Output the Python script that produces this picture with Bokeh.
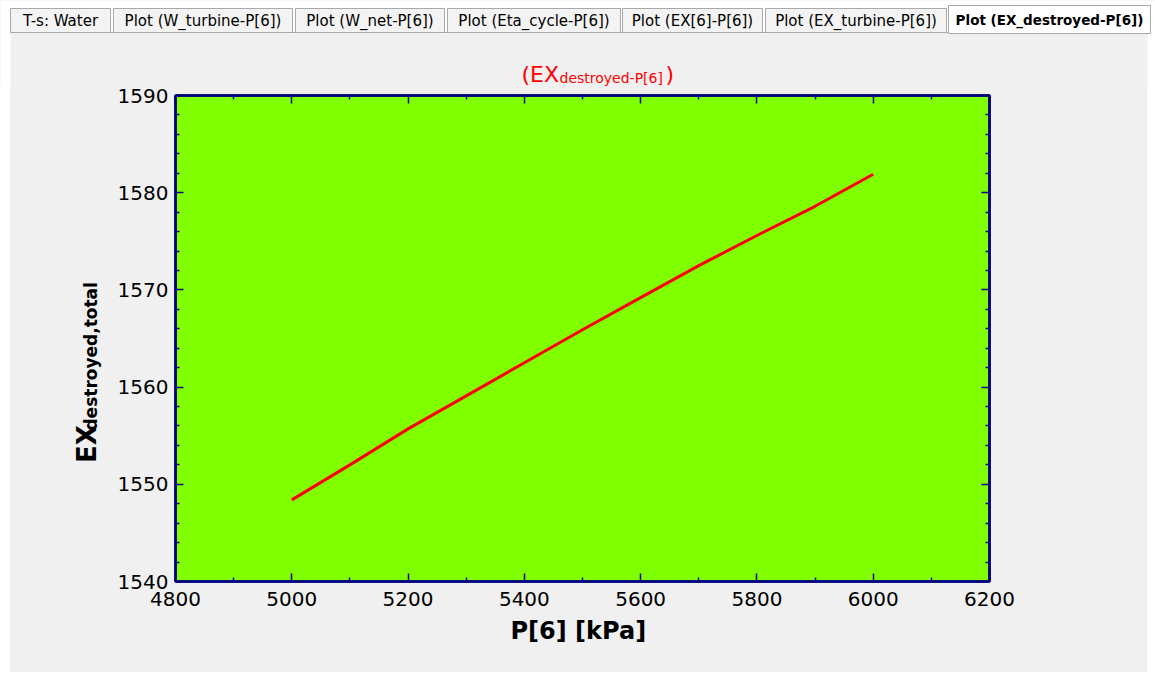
import math
from bokeh.plotting import figure
from bokeh.layouts import column, row
from bokeh.models import LinearAxis, FixedTicker, Range1d, Spacer
from bokeh.core.properties import value
from bokeh.embed import file_html
from bokeh.resources import INLINE

# ---- data ----
pressure = [5000, 5100, 5200, 5300, 5400, 5500, 5600, 5700, 5800, 5900, 6000]
ex_destroyed = [1548.4, 1552.0, 1555.7, 1559.1, 1562.5, 1565.9, 1569.2, 1572.5, 1575.6, 1578.6, 1581.9]
x_ticks = [4800, 5000, 5200, 5400, 5600, 5800, 6000, 6200]
x_minor = [4900, 5100, 5300, 5500, 5700, 5900, 6100]
y_ticks = [1540, 1550, 1560, 1570, 1580, 1590]
y_minor = [1542, 1544, 1546, 1548, 1552, 1554, 1556, 1558, 1562, 1564, 1566, 1568,
           1572, 1574, 1576, 1578, 1582, 1584, 1586, 1588]
tab_names = ["T-s: Water", "Plot (W_turbine-P[6])", "Plot (W_net-P[6])", "Plot (Eta_cycle-P[6])",
             "Plot (EX[6]-P[6])", "Plot (EX_turbine-P[6])", "Plot (EX_destroyed-P[6])"]
active_tab = 6
x_label = "P[6]  [kPa]"
y_label_main, y_label_sub = "EX", "destroyed,total"
title_open, title_sub, title_close = "(EX", "destroyed-P[6]", ")"

# ---- layout / style ----
W, H = 1155, 677
HEAD_H = 86          # header strip height
MARGIN_L, MARGIN_R, MARGIN_B = 10, 8, 5
LEFT_W = 100         # strip holding the rotated y label
FL, FR, FT, FB = 175, 989, 95, 581  # frame edges in page pixels
NAVY = "#000080"
PANEL = "#f0f0f0"
FONT = value("DejaVu Sans")
tab_edges = [(10, 110), (113, 292), (295, 444), (447, 620), (622, 762), (765, 946), (948, 1150)]
# rotated-text placement correction (renderer places rotated text off its anchor)
ROT_DX, ROT_DY = -11, 67

BODY_H = H - HEAD_H - MARGIN_B
MAIN_W = W - MARGIN_L - LEFT_W - MARGIN_R


def Y(py):  # page pixel (down) -> upward coordinate
    return H - py


# ---------------- header: tabs + title ----------------
head = figure(width=W, height=HEAD_H, output_backend="svg", toolbar_location=None,
              x_range=Range1d(0, W), y_range=Range1d(Y(HEAD_H), Y(0)),
              x_axis_type=None, y_axis_type=None, min_border=0,
              background_fill_color="white", border_fill_color="white", outline_line_color=None)
head.xgrid.visible = False
head.ygrid.visible = False
head.quad(left=[MARGIN_L], right=[W - MARGIN_R], top=[Y(32)], bottom=[Y(HEAD_H + 2)],
          fill_color=PANEL, line_color=None)
head.segment(x0=[MARGIN_L], y0=[Y(32)], x1=[W - MARGIN_R], y1=[Y(32)], line_color="#a0a0a0", line_width=1)
lefts = [a for a, b in tab_edges]
rights = [b for a, b in tab_edges]
tops = [Y(5) if i == active_tab else Y(8) for i in range(len(tab_edges))]
bots = [Y(33) if i == active_tab else Y(32) for i in range(len(tab_edges))]
fills = ["white" if i == active_tab else "#f3f3f3" for i in range(len(tab_edges))]
head.quad(left=lefts, right=rights, top=tops, bottom=bots, fill_color=fills, line_color="#a9a9a9", line_width=1)
centers = [(a + b) / 2 for a, b in tab_edges]
inact = [i for i in range(len(tab_names)) if i != active_tab]
head.text(x=[centers[i] for i in inact], y=[Y(20)] * len(inact), text=[tab_names[i] for i in inact],
          text_font=FONT, text_font_size="15px", text_color="black",
          text_align="center", text_baseline="middle")
head.text(x=[centers[active_tab]], y=[Y(19)], text=[tab_names[active_tab]],
          text_font=FONT, text_font_size="13.5px", text_font_style="bold", text_color="black",
          text_align="center", text_baseline="middle")
# title with subscript
head.text(x=[521], y=[Y(74)], text=[title_open], text_font=FONT, text_font_size="22px",
          text_color="#ff0000", text_align="left", text_baseline="alphabetic")
head.text(x=[559], y=[Y(77)], text=[title_sub], text_font=FONT, text_font_size="14px",
          text_color="#ff0000", text_align="left", text_baseline="alphabetic")
head.text(x=[665], y=[Y(74)], text=[title_close], text_font=FONT, text_font_size="22px",
          text_color="#ff0000", text_align="left", text_baseline="alphabetic")

# ---------------- left strip: rotated y label ----------------
lft = figure(width=LEFT_W, height=BODY_H, output_backend="svg", toolbar_location=None,
             x_range=Range1d(MARGIN_L, MARGIN_L + LEFT_W), y_range=Range1d(Y(HEAD_H + BODY_H), Y(HEAD_H)),
             x_axis_type=None, y_axis_type=None, min_border=0,
             background_fill_color=PANEL, border_fill_color=PANEL, outline_line_color=None)
lft.xgrid.visible = False
lft.ygrid.visible = False
lft.text(x=[97 + ROT_DX], y=[Y(462 + ROT_DY)], text=[y_label_main], angle=math.pi / 2, text_font=FONT,
         text_font_size="26px", text_font_style="bold", text_color="black",
         text_align="left", text_baseline="alphabetic")
lft.text(x=[101 + ROT_DX], y=[Y(423 + ROT_DY)], text=[y_label_sub], angle=math.pi / 2, text_font=FONT,
         text_font_size="17px", text_font_style="bold", text_color="black",
         text_align="left", text_baseline="alphabetic")

# ---------------- main plot ----------------
frame_left = FL - MARGIN_L - LEFT_W
frame_top = FT - HEAD_H
p = figure(width=MAIN_W, height=BODY_H, output_backend="svg", toolbar_location=None,
           x_range=Range1d(x_ticks[0], x_ticks[-1]), y_range=Range1d(y_ticks[0], y_ticks[-1]),
           min_border_left=frame_left, min_border_right=MAIN_W - (FR - MARGIN_L - LEFT_W),
           min_border_top=frame_top, min_border_bottom=BODY_H - (FB - HEAD_H),
           background_fill_color="#80ff00", border_fill_color=PANEL,
           outline_line_color=NAVY, outline_line_width=2.5)
p.xgrid.visible = False
p.ygrid.visible = False

p.line(pressure, ex_destroyed, line_color="#ff0000", line_width=3)

bottom_ax = p.below[0]
left_ax = p.left[0]
bottom_ax.ticker = FixedTicker(ticks=x_ticks, minor_ticks=x_minor)
left_ax.ticker = FixedTicker(ticks=y_ticks, minor_ticks=y_minor)
top_ax = LinearAxis(ticker=FixedTicker(ticks=x_ticks, minor_ticks=x_minor))
right_ax = LinearAxis(ticker=FixedTicker(ticks=y_ticks, minor_ticks=y_minor))
p.add_layout(top_ax, "above")
p.add_layout(right_ax, "right")


def style(ax, show_labels):
    ax.axis_line_color = NAVY
    ax.axis_line_width = 2.5
    ax.major_tick_line_color = NAVY
    ax.major_tick_line_width = 1.5
    ax.major_tick_in = 8
    ax.major_tick_out = 0
    ax.minor_tick_line_color = NAVY
    ax.minor_tick_line_width = 1.5
    ax.minor_tick_in = 4
    ax.minor_tick_out = 0
    ax.major_label_text_font = "DejaVu Sans"
    if show_labels:
        ax.major_label_text_font_size = "20px"
        ax.major_label_text_color = "black"
    else:
        ax.major_label_text_font_size = "0px"
        ax.major_label_text_color = None
        ax.major_label_standoff = 0


style(bottom_ax, True)
style(left_ax, True)
style(top_ax, False)
style(right_ax, False)
bottom_ax.major_label_standoff = 10
left_ax.major_label_standoff = 7
bottom_ax.axis_label = x_label
bottom_ax.axis_label_text_font = "DejaVu Sans"
bottom_ax.axis_label_text_font_size = "24px"
bottom_ax.axis_label_text_font_style = "bold"
bottom_ax.axis_label_text_color = "black"
bottom_ax.axis_label_standoff = 8

white = {"background-color": "white"}
body = row(Spacer(width=MARGIN_L, height=BODY_H, styles=white), lft, p,
           Spacer(width=MARGIN_R, height=BODY_H, styles=white),
           styles={"background-color": PANEL})
layout = column(head, body, Spacer(width=W, height=MARGIN_B, styles=white),
                styles={"background-color": PANEL})

open("out.html", "w").write(file_html(layout, INLINE))
